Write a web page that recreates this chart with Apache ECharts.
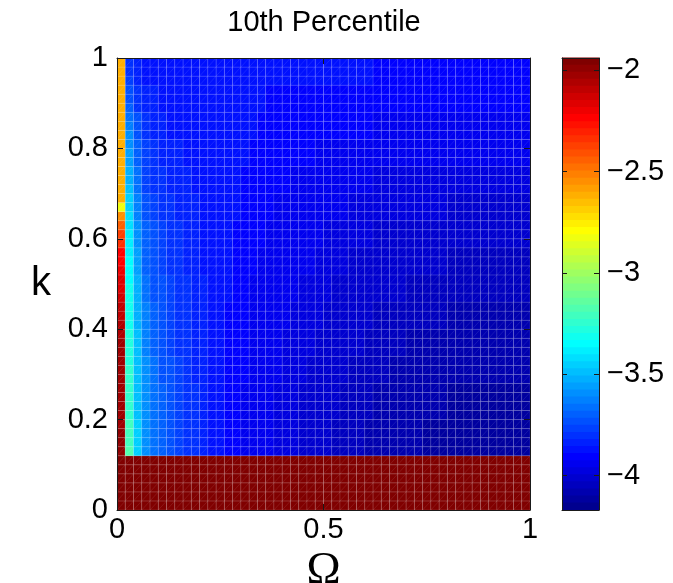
<!DOCTYPE html>
<html>
<head>
<meta charset="utf-8">
<script src="https://cdn.jsdelivr.net/npm/echarts@6/dist/echarts.min.js"></script>
<style>
html,body{margin:0;padding:0;background:#fff;}
#chart{width:673px;height:583px;}
</style>
</head>
<body>
<div id="chart"></div>
<script>
// Cell edges of the Ω (x) and k (y) grids
const omegaEdges = [0,0.02,0.04,0.06,0.08,0.1,0.12,0.14,0.16,0.18,0.2,0.22,0.24,0.26,0.28,0.3,0.32,0.34,0.36,0.38,0.4,0.42,0.44,0.46,0.48,0.5,0.52,0.54,0.56,0.58,0.6,0.62,0.64,0.66,0.68,0.7,0.72,0.74,0.76,0.78,0.8,0.82,0.84,0.86,0.88,0.9,0.92,0.94,0.96,0.98,1];
const kEdges = [0,0.02,0.04,0.06,0.08,0.1,0.12,0.14,0.16,0.18,0.2,0.22,0.24,0.26,0.28,0.3,0.32,0.34,0.36,0.38,0.4,0.42,0.44,0.46,0.48,0.5,0.52,0.54,0.56,0.58,0.6,0.62,0.64,0.66,0.68,0.7,0.72,0.74,0.76,0.78,0.8,0.82,0.84,0.86,0.88,0.9,0.92,0.94,0.96,0.98,1];

// 10th percentile values; one row per k cell (bottom to top), one entry per Ω cell (left to right)
const p10 = [
[-1.95,-1.95,-1.95,-1.95,-1.95,-1.95,-1.95,-1.95,-1.95,-1.95,-1.95,-1.95,-1.95,-1.95,-1.95,-1.95,-1.95,-1.95,-1.95,-1.95,-1.95,-1.95,-1.95,-1.95,-1.95,-1.95,-1.95,-1.95,-1.95,-1.95,-1.95,-1.95,-1.95,-1.95,-1.95,-1.95,-1.95,-1.95,-1.95,-1.95,-1.95,-1.95,-1.95,-1.95,-1.95,-1.95,-1.95,-1.95,-1.95,-1.95],
[-1.95,-1.95,-1.95,-1.95,-1.95,-1.95,-1.95,-1.95,-1.95,-1.95,-1.95,-1.95,-1.95,-1.95,-1.95,-1.95,-1.95,-1.95,-1.95,-1.95,-1.95,-1.95,-1.95,-1.95,-1.95,-1.95,-1.95,-1.95,-1.95,-1.95,-1.95,-1.95,-1.95,-1.95,-1.95,-1.95,-1.95,-1.95,-1.95,-1.95,-1.95,-1.95,-1.95,-1.95,-1.95,-1.95,-1.95,-1.95,-1.95,-1.95],
[-1.95,-1.95,-1.95,-1.95,-1.95,-1.95,-1.95,-1.95,-1.95,-1.95,-1.95,-1.95,-1.95,-1.95,-1.95,-1.95,-1.95,-1.95,-1.95,-1.95,-1.95,-1.95,-1.95,-1.95,-1.95,-1.95,-1.95,-1.95,-1.95,-1.95,-1.95,-1.95,-1.95,-1.95,-1.95,-1.95,-1.95,-1.95,-1.95,-1.95,-1.95,-1.95,-1.95,-1.95,-1.95,-1.95,-1.95,-1.95,-1.95,-1.95],
[-1.95,-1.95,-1.95,-1.95,-1.95,-1.95,-1.95,-1.95,-1.95,-1.95,-1.95,-1.95,-1.95,-1.95,-1.95,-1.95,-1.95,-1.95,-1.95,-1.95,-1.95,-1.95,-1.95,-1.95,-1.95,-1.95,-1.95,-1.95,-1.95,-1.95,-1.95,-1.95,-1.95,-1.95,-1.95,-1.95,-1.95,-1.95,-1.95,-1.95,-1.95,-1.95,-1.95,-1.95,-1.95,-1.95,-1.95,-1.95,-1.95,-1.95],
[-1.95,-1.95,-1.95,-1.95,-1.95,-1.95,-1.95,-1.95,-1.95,-1.95,-1.95,-1.95,-1.95,-1.95,-1.95,-1.95,-1.95,-1.95,-1.95,-1.95,-1.95,-1.95,-1.95,-1.95,-1.95,-1.95,-1.95,-1.95,-1.95,-1.95,-1.95,-1.95,-1.95,-1.95,-1.95,-1.95,-1.95,-1.95,-1.95,-1.95,-1.95,-1.95,-1.95,-1.95,-1.95,-1.95,-1.95,-1.95,-1.95,-1.95],
[-1.95,-1.95,-1.95,-1.95,-1.95,-1.95,-1.95,-1.95,-1.95,-1.95,-1.95,-1.95,-1.95,-1.95,-1.95,-1.95,-1.95,-1.95,-1.95,-1.95,-1.95,-1.95,-1.95,-1.95,-1.95,-1.95,-1.95,-1.95,-1.95,-1.95,-1.95,-1.95,-1.95,-1.95,-1.95,-1.95,-1.95,-1.95,-1.95,-1.95,-1.95,-1.95,-1.95,-1.95,-1.95,-1.95,-1.95,-1.95,-1.95,-1.95],
[-1.99,-3.19,-3.47,-3.58,-3.65,-3.70,-3.74,-3.77,-3.80,-3.82,-3.84,-3.86,-3.88,-3.90,-3.91,-3.93,-3.94,-3.95,-3.96,-3.97,-3.98,-3.99,-4.00,-4.01,-4.02,-4.03,-4.04,-4.05,-4.06,-4.06,-4.07,-4.08,-4.08,-4.09,-4.09,-4.10,-4.10,-4.11,-4.11,-4.11,-4.12,-4.12,-4.12,-4.12,-4.12,-4.12,-4.12,-4.12,-4.12,-4.12],
[-2.00,-3.20,-3.47,-3.58,-3.65,-3.70,-3.74,-3.77,-3.80,-3.82,-3.84,-3.86,-3.88,-3.90,-3.91,-3.93,-3.94,-3.95,-3.96,-3.97,-3.98,-3.99,-4.00,-4.01,-4.02,-4.03,-4.04,-4.05,-4.06,-4.06,-4.07,-4.08,-4.08,-4.09,-4.09,-4.10,-4.10,-4.11,-4.11,-4.11,-4.12,-4.12,-4.12,-4.12,-4.12,-4.12,-4.12,-4.12,-4.12,-4.12],
[-2.00,-3.21,-3.47,-3.58,-3.65,-3.70,-3.74,-3.77,-3.80,-3.82,-3.84,-3.86,-3.88,-3.90,-3.91,-3.93,-3.94,-3.95,-3.96,-3.97,-3.98,-3.99,-4.00,-4.01,-4.02,-4.03,-4.04,-4.05,-4.06,-4.06,-4.07,-4.08,-4.08,-4.09,-4.09,-4.10,-4.10,-4.11,-4.11,-4.11,-4.12,-4.12,-4.12,-4.12,-4.12,-4.12,-4.12,-4.12,-4.12,-4.12],
[-2.01,-3.22,-3.47,-3.58,-3.65,-3.70,-3.74,-3.77,-3.80,-3.82,-3.84,-3.86,-3.88,-3.90,-3.91,-3.93,-3.94,-3.95,-3.96,-3.97,-3.98,-3.99,-4.00,-4.01,-4.02,-4.03,-4.04,-4.05,-4.06,-4.06,-4.07,-4.08,-4.08,-4.09,-4.09,-4.10,-4.10,-4.11,-4.11,-4.11,-4.12,-4.12,-4.12,-4.12,-4.12,-4.12,-4.12,-4.12,-4.12,-4.12],
[-2.01,-3.23,-3.48,-3.59,-3.66,-3.71,-3.75,-3.77,-3.80,-3.82,-3.84,-3.86,-3.88,-3.90,-3.91,-3.93,-3.94,-3.95,-3.96,-3.97,-3.98,-3.99,-4.00,-4.01,-4.01,-4.02,-4.03,-4.04,-4.05,-4.05,-4.06,-4.07,-4.07,-4.08,-4.08,-4.09,-4.09,-4.10,-4.10,-4.10,-4.11,-4.11,-4.11,-4.11,-4.11,-4.11,-4.11,-4.11,-4.11,-4.11],
[-2.01,-3.23,-3.48,-3.59,-3.66,-3.71,-3.75,-3.77,-3.80,-3.82,-3.84,-3.86,-3.88,-3.90,-3.91,-3.93,-3.94,-3.95,-3.96,-3.97,-3.98,-3.99,-4.00,-4.01,-4.01,-4.02,-4.03,-4.04,-4.05,-4.05,-4.06,-4.07,-4.07,-4.08,-4.08,-4.09,-4.09,-4.10,-4.10,-4.10,-4.11,-4.11,-4.11,-4.11,-4.11,-4.11,-4.11,-4.11,-4.11,-4.11],
[-2.02,-3.24,-3.48,-3.59,-3.66,-3.71,-3.75,-3.77,-3.80,-3.82,-3.84,-3.86,-3.88,-3.90,-3.91,-3.93,-3.94,-3.95,-3.96,-3.97,-3.98,-3.99,-4.00,-4.01,-4.01,-4.02,-4.03,-4.04,-4.05,-4.05,-4.06,-4.07,-4.07,-4.08,-4.08,-4.09,-4.09,-4.10,-4.10,-4.10,-4.11,-4.11,-4.11,-4.11,-4.11,-4.11,-4.11,-4.11,-4.11,-4.11],
[-2.02,-3.25,-3.48,-3.59,-3.66,-3.71,-3.75,-3.77,-3.80,-3.82,-3.84,-3.86,-3.88,-3.90,-3.91,-3.93,-3.94,-3.95,-3.96,-3.97,-3.98,-3.99,-4.00,-4.01,-4.01,-4.02,-4.03,-4.04,-4.05,-4.05,-4.06,-4.07,-4.07,-4.08,-4.08,-4.09,-4.09,-4.10,-4.10,-4.10,-4.11,-4.11,-4.11,-4.11,-4.11,-4.11,-4.11,-4.11,-4.11,-4.11],
[-2.02,-3.25,-3.49,-3.61,-3.67,-3.72,-3.75,-3.78,-3.81,-3.83,-3.84,-3.86,-3.88,-3.90,-3.91,-3.92,-3.93,-3.94,-3.95,-3.96,-3.97,-3.98,-3.99,-4.00,-4.01,-4.02,-4.02,-4.03,-4.04,-4.04,-4.05,-4.06,-4.06,-4.07,-4.07,-4.08,-4.08,-4.09,-4.09,-4.09,-4.10,-4.10,-4.10,-4.10,-4.10,-4.10,-4.10,-4.10,-4.10,-4.10],
[-2.03,-3.26,-3.49,-3.61,-3.67,-3.72,-3.75,-3.78,-3.81,-3.83,-3.84,-3.86,-3.88,-3.90,-3.91,-3.92,-3.93,-3.94,-3.95,-3.96,-3.97,-3.98,-3.99,-4.00,-4.01,-4.02,-4.02,-4.03,-4.04,-4.04,-4.05,-4.06,-4.06,-4.07,-4.07,-4.08,-4.08,-4.09,-4.09,-4.09,-4.10,-4.10,-4.10,-4.10,-4.10,-4.10,-4.10,-4.10,-4.10,-4.10],
[-2.03,-3.27,-3.49,-3.61,-3.67,-3.72,-3.75,-3.78,-3.81,-3.83,-3.84,-3.86,-3.88,-3.90,-3.91,-3.92,-3.93,-3.94,-3.95,-3.96,-3.97,-3.98,-3.99,-4.00,-4.01,-4.02,-4.02,-4.03,-4.04,-4.04,-4.05,-4.06,-4.06,-4.07,-4.07,-4.08,-4.08,-4.09,-4.09,-4.09,-4.10,-4.10,-4.10,-4.10,-4.10,-4.10,-4.10,-4.10,-4.10,-4.10],
[-2.04,-3.27,-3.50,-3.62,-3.69,-3.73,-3.76,-3.79,-3.81,-3.83,-3.85,-3.86,-3.88,-3.90,-3.91,-3.92,-3.93,-3.94,-3.95,-3.96,-3.97,-3.97,-3.98,-3.99,-4.00,-4.01,-4.02,-4.02,-4.03,-4.03,-4.04,-4.05,-4.05,-4.06,-4.06,-4.07,-4.07,-4.08,-4.08,-4.08,-4.09,-4.09,-4.09,-4.09,-4.09,-4.09,-4.09,-4.09,-4.09,-4.09],
[-2.04,-3.28,-3.50,-3.62,-3.69,-3.73,-3.76,-3.79,-3.81,-3.83,-3.85,-3.86,-3.88,-3.90,-3.91,-3.92,-3.93,-3.94,-3.95,-3.96,-3.97,-3.97,-3.98,-3.99,-4.00,-4.01,-4.02,-4.02,-4.03,-4.03,-4.04,-4.05,-4.05,-4.06,-4.06,-4.07,-4.07,-4.08,-4.08,-4.08,-4.09,-4.09,-4.09,-4.09,-4.09,-4.09,-4.09,-4.09,-4.09,-4.09],
[-2.05,-3.29,-3.50,-3.62,-3.69,-3.73,-3.76,-3.79,-3.81,-3.83,-3.85,-3.86,-3.88,-3.90,-3.91,-3.92,-3.93,-3.94,-3.95,-3.96,-3.97,-3.97,-3.98,-3.99,-4.00,-4.01,-4.02,-4.02,-4.03,-4.03,-4.04,-4.05,-4.05,-4.06,-4.06,-4.07,-4.07,-4.08,-4.08,-4.08,-4.09,-4.09,-4.09,-4.09,-4.09,-4.09,-4.09,-4.09,-4.09,-4.09],
[-2.07,-3.30,-3.52,-3.64,-3.70,-3.74,-3.77,-3.80,-3.82,-3.83,-3.85,-3.86,-3.88,-3.90,-3.90,-3.92,-3.93,-3.94,-3.94,-3.95,-3.96,-3.97,-3.97,-3.98,-3.99,-4.00,-4.01,-4.01,-4.02,-4.02,-4.03,-4.04,-4.04,-4.05,-4.05,-4.05,-4.05,-4.06,-4.06,-4.06,-4.07,-4.07,-4.07,-4.07,-4.07,-4.07,-4.07,-4.07,-4.07,-4.07],
[-2.09,-3.30,-3.52,-3.64,-3.70,-3.74,-3.77,-3.80,-3.82,-3.83,-3.85,-3.86,-3.88,-3.90,-3.90,-3.92,-3.93,-3.94,-3.94,-3.95,-3.96,-3.97,-3.97,-3.98,-3.99,-4.00,-4.01,-4.01,-4.02,-4.02,-4.03,-4.04,-4.04,-4.05,-4.05,-4.05,-4.05,-4.06,-4.06,-4.06,-4.07,-4.07,-4.07,-4.07,-4.07,-4.07,-4.07,-4.07,-4.07,-4.07],
[-2.10,-3.31,-3.52,-3.64,-3.70,-3.74,-3.77,-3.80,-3.82,-3.83,-3.85,-3.86,-3.88,-3.90,-3.90,-3.92,-3.93,-3.94,-3.94,-3.95,-3.96,-3.97,-3.97,-3.98,-3.99,-4.00,-4.01,-4.01,-4.02,-4.02,-4.03,-4.04,-4.04,-4.05,-4.05,-4.05,-4.05,-4.06,-4.06,-4.06,-4.07,-4.07,-4.07,-4.07,-4.07,-4.07,-4.07,-4.07,-4.07,-4.07],
[-2.13,-3.32,-3.54,-3.66,-3.72,-3.75,-3.78,-3.80,-3.82,-3.84,-3.85,-3.87,-3.88,-3.89,-3.90,-3.92,-3.93,-3.93,-3.94,-3.95,-3.95,-3.96,-3.97,-3.97,-3.98,-3.99,-4.00,-4.00,-4.01,-4.01,-4.02,-4.03,-4.03,-4.03,-4.03,-4.04,-4.04,-4.05,-4.05,-4.05,-4.05,-4.05,-4.05,-4.05,-4.05,-4.05,-4.05,-4.05,-4.05,-4.05],
[-2.15,-3.33,-3.54,-3.66,-3.72,-3.75,-3.78,-3.80,-3.82,-3.84,-3.85,-3.87,-3.88,-3.89,-3.90,-3.92,-3.93,-3.93,-3.94,-3.95,-3.95,-3.96,-3.97,-3.97,-3.98,-3.99,-4.00,-4.00,-4.01,-4.01,-4.02,-4.03,-4.03,-4.03,-4.03,-4.04,-4.04,-4.05,-4.05,-4.05,-4.05,-4.05,-4.05,-4.05,-4.05,-4.05,-4.05,-4.05,-4.05,-4.05],
[-2.17,-3.34,-3.54,-3.66,-3.72,-3.75,-3.78,-3.80,-3.82,-3.84,-3.85,-3.87,-3.88,-3.89,-3.90,-3.92,-3.93,-3.93,-3.94,-3.95,-3.95,-3.96,-3.97,-3.97,-3.98,-3.99,-4.00,-4.00,-4.01,-4.01,-4.02,-4.03,-4.03,-4.03,-4.03,-4.04,-4.04,-4.05,-4.05,-4.05,-4.05,-4.05,-4.05,-4.05,-4.05,-4.05,-4.05,-4.05,-4.05,-4.05],
[-2.21,-3.35,-3.56,-3.69,-3.73,-3.77,-3.79,-3.81,-3.83,-3.84,-3.86,-3.87,-3.88,-3.89,-3.90,-3.91,-3.92,-3.93,-3.93,-3.94,-3.95,-3.95,-3.96,-3.96,-3.97,-3.98,-3.98,-3.99,-4.00,-4.00,-4.00,-4.01,-4.01,-4.02,-4.02,-4.02,-4.02,-4.03,-4.03,-4.03,-4.04,-4.04,-4.04,-4.04,-4.04,-4.04,-4.04,-4.04,-4.04,-4.04],
[-2.23,-3.36,-3.56,-3.69,-3.73,-3.77,-3.79,-3.81,-3.83,-3.84,-3.86,-3.87,-3.88,-3.89,-3.90,-3.91,-3.92,-3.93,-3.93,-3.94,-3.95,-3.95,-3.96,-3.96,-3.97,-3.98,-3.98,-3.99,-4.00,-4.00,-4.00,-4.01,-4.01,-4.02,-4.02,-4.02,-4.02,-4.03,-4.03,-4.03,-4.04,-4.04,-4.04,-4.04,-4.04,-4.04,-4.04,-4.04,-4.04,-4.04],
[-2.25,-3.37,-3.56,-3.69,-3.73,-3.77,-3.79,-3.81,-3.83,-3.84,-3.86,-3.87,-3.88,-3.89,-3.90,-3.91,-3.92,-3.93,-3.93,-3.94,-3.95,-3.95,-3.96,-3.96,-3.97,-3.98,-3.98,-3.99,-4.00,-4.00,-4.00,-4.01,-4.01,-4.02,-4.02,-4.02,-4.02,-4.03,-4.03,-4.03,-4.04,-4.04,-4.04,-4.04,-4.04,-4.04,-4.04,-4.04,-4.04,-4.04],
[-2.33,-3.38,-3.59,-3.71,-3.75,-3.78,-3.80,-3.82,-3.84,-3.85,-3.86,-3.87,-3.88,-3.89,-3.90,-3.91,-3.92,-3.92,-3.93,-3.93,-3.94,-3.94,-3.95,-3.95,-3.96,-3.97,-3.97,-3.98,-3.98,-3.98,-3.99,-4.00,-4.00,-4.00,-4.00,-4.01,-4.01,-4.01,-4.01,-4.01,-4.02,-4.02,-4.02,-4.02,-4.02,-4.02,-4.02,-4.02,-4.02,-4.02],
[-2.37,-3.40,-3.59,-3.71,-3.75,-3.78,-3.80,-3.82,-3.84,-3.85,-3.86,-3.87,-3.88,-3.89,-3.90,-3.91,-3.92,-3.92,-3.93,-3.93,-3.94,-3.94,-3.95,-3.95,-3.96,-3.97,-3.97,-3.98,-3.98,-3.98,-3.99,-4.00,-4.00,-4.00,-4.00,-4.01,-4.01,-4.01,-4.01,-4.01,-4.02,-4.02,-4.02,-4.02,-4.02,-4.02,-4.02,-4.02,-4.02,-4.02],
[-2.46,-3.41,-3.59,-3.71,-3.75,-3.78,-3.80,-3.82,-3.84,-3.85,-3.86,-3.87,-3.88,-3.89,-3.90,-3.91,-3.92,-3.92,-3.93,-3.93,-3.94,-3.94,-3.95,-3.95,-3.96,-3.97,-3.97,-3.98,-3.98,-3.98,-3.99,-4.00,-4.00,-4.00,-4.00,-4.01,-4.01,-4.01,-4.01,-4.01,-4.02,-4.02,-4.02,-4.02,-4.02,-4.02,-4.02,-4.02,-4.02,-4.02],
[-2.54,-3.43,-3.62,-3.73,-3.77,-3.80,-3.82,-3.83,-3.84,-3.85,-3.86,-3.87,-3.88,-3.89,-3.89,-3.90,-3.91,-3.92,-3.92,-3.93,-3.93,-3.93,-3.94,-3.94,-3.95,-3.95,-3.96,-3.96,-3.97,-3.97,-3.97,-3.98,-3.98,-3.99,-3.99,-3.99,-3.99,-3.99,-3.99,-3.99,-4.00,-4.00,-4.00,-4.00,-4.00,-4.00,-4.00,-4.00,-4.00,-4.00],
[-2.82,-3.45,-3.62,-3.73,-3.77,-3.80,-3.82,-3.83,-3.84,-3.85,-3.86,-3.87,-3.88,-3.89,-3.89,-3.90,-3.91,-3.92,-3.92,-3.93,-3.93,-3.93,-3.94,-3.94,-3.95,-3.95,-3.96,-3.96,-3.97,-3.97,-3.97,-3.98,-3.98,-3.99,-3.99,-3.99,-3.99,-3.99,-3.99,-3.99,-4.00,-4.00,-4.00,-4.00,-4.00,-4.00,-4.00,-4.00,-4.00,-4.00],
[-2.62,-3.47,-3.62,-3.73,-3.77,-3.80,-3.82,-3.83,-3.84,-3.85,-3.86,-3.87,-3.88,-3.89,-3.89,-3.90,-3.91,-3.92,-3.92,-3.93,-3.93,-3.93,-3.94,-3.94,-3.95,-3.95,-3.96,-3.96,-3.97,-3.97,-3.97,-3.98,-3.98,-3.99,-3.99,-3.99,-3.99,-3.99,-3.99,-3.99,-4.00,-4.00,-4.00,-4.00,-4.00,-4.00,-4.00,-4.00,-4.00,-4.00],
[-2.62,-3.49,-3.66,-3.76,-3.79,-3.82,-3.83,-3.84,-3.85,-3.86,-3.86,-3.87,-3.88,-3.89,-3.89,-3.90,-3.91,-3.91,-3.92,-3.92,-3.92,-3.93,-3.93,-3.93,-3.94,-3.94,-3.94,-3.95,-3.95,-3.95,-3.96,-3.97,-3.97,-3.97,-3.97,-3.97,-3.97,-3.98,-3.98,-3.98,-3.98,-3.98,-3.98,-3.98,-3.98,-3.98,-3.98,-3.98,-3.98,-3.98],
[-2.62,-3.51,-3.66,-3.76,-3.79,-3.82,-3.83,-3.84,-3.85,-3.86,-3.86,-3.87,-3.88,-3.89,-3.89,-3.90,-3.91,-3.91,-3.92,-3.92,-3.92,-3.93,-3.93,-3.93,-3.94,-3.94,-3.94,-3.95,-3.95,-3.95,-3.96,-3.97,-3.97,-3.97,-3.97,-3.97,-3.97,-3.98,-3.98,-3.98,-3.98,-3.98,-3.98,-3.98,-3.98,-3.98,-3.98,-3.98,-3.98,-3.98],
[-2.62,-3.53,-3.66,-3.76,-3.79,-3.82,-3.83,-3.84,-3.85,-3.86,-3.86,-3.87,-3.88,-3.89,-3.89,-3.90,-3.91,-3.91,-3.92,-3.92,-3.92,-3.93,-3.93,-3.93,-3.94,-3.94,-3.94,-3.95,-3.95,-3.95,-3.96,-3.97,-3.97,-3.97,-3.97,-3.97,-3.97,-3.98,-3.98,-3.98,-3.98,-3.98,-3.98,-3.98,-3.98,-3.98,-3.98,-3.98,-3.98,-3.98],
[-2.62,-3.55,-3.70,-3.78,-3.81,-3.83,-3.84,-3.85,-3.86,-3.86,-3.87,-3.87,-3.88,-3.89,-3.89,-3.89,-3.90,-3.91,-3.91,-3.91,-3.91,-3.92,-3.92,-3.92,-3.93,-3.93,-3.93,-3.93,-3.94,-3.94,-3.94,-3.95,-3.95,-3.95,-3.95,-3.95,-3.95,-3.96,-3.96,-3.96,-3.96,-3.96,-3.96,-3.96,-3.96,-3.96,-3.96,-3.96,-3.96,-3.96],
[-2.62,-3.57,-3.70,-3.78,-3.81,-3.83,-3.84,-3.85,-3.86,-3.86,-3.87,-3.87,-3.88,-3.89,-3.89,-3.89,-3.90,-3.91,-3.91,-3.91,-3.91,-3.92,-3.92,-3.92,-3.93,-3.93,-3.93,-3.93,-3.94,-3.94,-3.94,-3.95,-3.95,-3.95,-3.95,-3.95,-3.95,-3.96,-3.96,-3.96,-3.96,-3.96,-3.96,-3.96,-3.96,-3.96,-3.96,-3.96,-3.96,-3.96],
[-2.62,-3.59,-3.70,-3.78,-3.81,-3.83,-3.84,-3.85,-3.86,-3.86,-3.87,-3.87,-3.88,-3.89,-3.89,-3.89,-3.90,-3.91,-3.91,-3.91,-3.91,-3.92,-3.92,-3.92,-3.93,-3.93,-3.93,-3.93,-3.94,-3.94,-3.94,-3.95,-3.95,-3.95,-3.95,-3.95,-3.95,-3.96,-3.96,-3.96,-3.96,-3.96,-3.96,-3.96,-3.96,-3.96,-3.96,-3.96,-3.96,-3.96],
[-2.62,-3.61,-3.75,-3.81,-3.83,-3.85,-3.86,-3.86,-3.87,-3.87,-3.87,-3.88,-3.88,-3.88,-3.89,-3.89,-3.89,-3.90,-3.90,-3.90,-3.91,-3.91,-3.91,-3.91,-3.91,-3.91,-3.92,-3.92,-3.92,-3.92,-3.92,-3.93,-3.93,-3.93,-3.93,-3.93,-3.93,-3.94,-3.94,-3.94,-3.94,-3.94,-3.94,-3.94,-3.94,-3.94,-3.94,-3.94,-3.94,-3.94],
[-2.62,-3.64,-3.75,-3.81,-3.83,-3.85,-3.86,-3.86,-3.87,-3.87,-3.87,-3.88,-3.88,-3.88,-3.89,-3.89,-3.89,-3.90,-3.90,-3.90,-3.91,-3.91,-3.91,-3.91,-3.91,-3.91,-3.92,-3.92,-3.92,-3.92,-3.92,-3.93,-3.93,-3.93,-3.93,-3.93,-3.93,-3.94,-3.94,-3.94,-3.94,-3.94,-3.94,-3.94,-3.94,-3.94,-3.94,-3.94,-3.94,-3.94],
[-2.62,-3.66,-3.75,-3.81,-3.83,-3.85,-3.86,-3.86,-3.87,-3.87,-3.87,-3.88,-3.88,-3.88,-3.89,-3.89,-3.89,-3.90,-3.90,-3.90,-3.91,-3.91,-3.91,-3.91,-3.91,-3.91,-3.92,-3.92,-3.92,-3.92,-3.92,-3.93,-3.93,-3.93,-3.93,-3.93,-3.93,-3.94,-3.94,-3.94,-3.94,-3.94,-3.94,-3.94,-3.94,-3.94,-3.94,-3.94,-3.94,-3.94],
[-2.62,-3.69,-3.80,-3.84,-3.85,-3.87,-3.87,-3.87,-3.87,-3.88,-3.88,-3.88,-3.88,-3.88,-3.88,-3.88,-3.89,-3.89,-3.90,-3.90,-3.90,-3.90,-3.90,-3.90,-3.90,-3.90,-3.90,-3.90,-3.90,-3.90,-3.91,-3.91,-3.91,-3.91,-3.91,-3.92,-3.92,-3.92,-3.92,-3.92,-3.92,-3.92,-3.92,-3.92,-3.92,-3.92,-3.92,-3.92,-3.92,-3.92],
[-2.62,-3.72,-3.80,-3.84,-3.85,-3.87,-3.87,-3.87,-3.87,-3.88,-3.88,-3.88,-3.88,-3.88,-3.88,-3.88,-3.89,-3.89,-3.90,-3.90,-3.90,-3.90,-3.90,-3.90,-3.90,-3.90,-3.90,-3.90,-3.90,-3.90,-3.91,-3.91,-3.91,-3.91,-3.91,-3.92,-3.92,-3.92,-3.92,-3.92,-3.92,-3.92,-3.92,-3.92,-3.92,-3.92,-3.92,-3.92,-3.92,-3.92],
[-2.62,-3.75,-3.80,-3.84,-3.85,-3.87,-3.87,-3.87,-3.87,-3.88,-3.88,-3.88,-3.88,-3.88,-3.88,-3.88,-3.89,-3.89,-3.90,-3.90,-3.90,-3.90,-3.90,-3.90,-3.90,-3.90,-3.90,-3.90,-3.90,-3.90,-3.91,-3.91,-3.91,-3.91,-3.91,-3.92,-3.92,-3.92,-3.92,-3.92,-3.92,-3.92,-3.92,-3.92,-3.92,-3.92,-3.92,-3.92,-3.92,-3.92],
[-2.62,-3.77,-3.84,-3.86,-3.87,-3.88,-3.88,-3.88,-3.88,-3.88,-3.88,-3.88,-3.88,-3.88,-3.88,-3.88,-3.89,-3.89,-3.89,-3.89,-3.89,-3.89,-3.89,-3.89,-3.89,-3.89,-3.89,-3.89,-3.89,-3.89,-3.89,-3.90,-3.90,-3.90,-3.90,-3.90,-3.90,-3.90,-3.90,-3.90,-3.90,-3.90,-3.90,-3.90,-3.90,-3.90,-3.90,-3.90,-3.90,-3.90],
[-2.62,-3.79,-3.84,-3.86,-3.87,-3.88,-3.88,-3.88,-3.88,-3.88,-3.88,-3.88,-3.88,-3.88,-3.88,-3.88,-3.89,-3.89,-3.89,-3.89,-3.89,-3.89,-3.89,-3.89,-3.89,-3.89,-3.89,-3.89,-3.89,-3.89,-3.89,-3.90,-3.90,-3.90,-3.90,-3.90,-3.90,-3.90,-3.90,-3.90,-3.90,-3.90,-3.90,-3.90,-3.90,-3.90,-3.90,-3.90,-3.90,-3.90],
[-2.62,-3.81,-3.84,-3.86,-3.87,-3.88,-3.88,-3.88,-3.88,-3.88,-3.88,-3.88,-3.88,-3.88,-3.88,-3.88,-3.89,-3.89,-3.89,-3.89,-3.89,-3.89,-3.89,-3.89,-3.89,-3.89,-3.89,-3.89,-3.89,-3.89,-3.89,-3.90,-3.90,-3.90,-3.90,-3.90,-3.90,-3.90,-3.90,-3.90,-3.90,-3.90,-3.90,-3.90,-3.90,-3.90,-3.90,-3.90,-3.90,-3.90]
];

// Colour limits and colour-bar tick labels
const colorMin = -4.17;
const colorMax = -1.94;
const colorTicks = [-4, -3.5, -3, -2.5, -2];
const omegaTicks = [0, 0.5, 1];

// MATLAB-style jet colormap with m levels
function jet(m) {
  const n = Math.ceil(m / 4), u = [];
  for (let i = 1; i <= n; i++) u.push(i / n);
  for (let i = 1; i < n; i++) u.push(1);
  for (let i = n; i >= 1; i--) u.push(i / n);
  const g0 = Math.ceil(n / 2) - (m % 4 === 1 ? 1 : 0);
  const J = Array.from({length: m}, () => [0, 0, 0]);
  for (let k = 0; k < u.length; k++) {
    const g = g0 + k + 1, r = g + n, b = g - n;
    if (r >= 1 && r <= m) J[r - 1][0] = u[k];
    if (g >= 1 && g <= m) J[g - 1][1] = u[k];
    if (b >= 1 && b <= m) J[b - 1][2] = u[k];
  }
  return J.map(c => 'rgb(' + c.map(v => Math.round(v * 255)).join(',') + ')');
}

const LEVELS = 64;
const jetColors = jet(LEVELS);
const step = (colorMax - colorMin) / LEVELS;
const pieces = jetColors.map((c, i) => {
  const p = {color: c};
  p.gte = i === 0 ? -1e9 : colorMin + step * i;
  p.lt = i === LEVELS - 1 ? 1e9 : colorMin + step * (i + 1);
  return p;
});

const cells = [];
for (let j = 0; j < p10.length; j++) {
  for (let i = 0; i < p10[j].length; i++) {
    cells.push([omegaEdges[i], kEdges[j], omegaEdges[i + 1], kEdges[j + 1], p10[j][i]]);
  }
}

const SANS = '"Liberation Sans", Arial, Helvetica, sans-serif';
const SERIF = '"Liberation Serif", "Times New Roman", serif';
const AXIS = '#1a1a1a';
const FS = 29;
const minus = v => String(v).replace('-', '\u2212');

const plot = {left: 117, top: 58, width: 413, height: 452};
const bar = {left: 562, top: 58, width: 37, height: 452};
// colour-bar swatches overlap slightly so no seams show between bands
const overlap = 0.8;

function boxAxis(extra) {
  return Object.assign({
    type: 'value', z: 10,
    axisLine: {show: true, onZero: false, lineStyle: {color: AXIS, width: 1}},
    axisTick: {show: true, inside: true, length: 6, lineStyle: {color: AXIS, width: 1}},
    axisLabel: {show: false},
    splitLine: {show: false}
  }, extra);
}

const chart = echarts.init(document.getElementById('chart'), null, {renderer: 'canvas'});
chart.setOption({
  animation: false,
  backgroundColor: '#fff',
  title: {
    text: '10th Percentile', left: 324, top: 8, padding: 0, textAlign: 'center',
    textStyle: {fontFamily: SANS, fontSize: FS, fontWeight: 'normal', color: '#000'}
  },
  grid: [
    Object.assign({containLabel: false, outerBoundsMode: 'none'}, plot),
    Object.assign({containLabel: false, outerBoundsMode: 'none'}, bar)
  ],
  xAxis: [
    boxAxis({gridIndex: 0, min: 0, max: 1, interval: 0.5, position: 'bottom',
      axisLabel: {show: true, margin: 5, fontSize: FS, color: '#000', fontFamily: SANS,
        customValues: omegaTicks},
      name: 'Ω', nameLocation: 'middle', nameGap: 28,
      nameTextStyle: {fontFamily: SERIF, fontSize: 46, color: '#000'}}),
    boxAxis({gridIndex: 0, min: 0, max: 1, interval: 0.5, position: 'top'}),
    boxAxis({gridIndex: 1, min: 0, max: 1, position: 'bottom', axisTick: {show: false}}),
    boxAxis({gridIndex: 1, min: 0, max: 1, position: 'top', axisTick: {show: false}})
  ],
  yAxis: [
    boxAxis({gridIndex: 0, min: 0, max: 1, interval: 0.2, position: 'left',
      axisLabel: {show: true, margin: 9, fontSize: FS, color: '#000', fontFamily: SANS},
      name: 'k', nameLocation: 'middle', nameGap: 66, nameRotate: 0,
      nameTextStyle: {fontFamily: SANS, fontSize: 40, color: '#000', align: 'right', verticalAlign: 'middle'}}),
    boxAxis({gridIndex: 0, min: 0, max: 1, interval: 0.2, position: 'right'}),
    boxAxis({gridIndex: 1, min: colorMin, max: colorMax, position: 'right',
      axisTick: {show: true, inside: true, length: 5, customValues: colorTicks, lineStyle: {color: AXIS}},
      axisLabel: {show: true, margin: 8, fontSize: FS, color: '#000', fontFamily: SANS,
        customValues: colorTicks, formatter: minus}}),
    boxAxis({gridIndex: 1, min: colorMin, max: colorMax, position: 'left',
      axisTick: {show: true, inside: true, length: 5, customValues: colorTicks, lineStyle: {color: AXIS}}})
  ],
  visualMap: {
    type: 'piecewise', pieces: pieces, seriesIndex: 0, dimension: 4,
    show: true, orient: 'vertical', left: bar.left, top: bar.top - overlap / 2,
    itemWidth: bar.width, itemHeight: bar.height / LEVELS + overlap, itemGap: -overlap,
    itemSymbol: 'rect', showLabel: false, padding: 0, selectedMode: false,
    hoverLink: false, z: 4
  },
  series: [{
    type: 'custom',
    xAxisIndex: 0, yAxisIndex: 0,
    encode: {x: [0, 2], y: [1, 3]},
    data: cells,
    silent: true,
    renderItem: function (params, api) {
      const a = api.coord([api.value(0), api.value(1)]);
      const b = api.coord([api.value(2), api.value(3)]);
      const fill = api.visual('color');
      return {
        type: 'group',
        children: [
          {type: 'rect', shape: {x: a[0], y: b[1], width: b[0] - a[0], height: a[1] - b[1]},
           style: {fill: fill, stroke: 'rgba(255,255,255,0.16)', lineWidth: 0.7}},
          {type: 'line', shape: {x1: a[0], y1: a[1], x2: b[0], y2: b[1]},
           style: {stroke: 'rgba(255,255,255,0.13)', lineWidth: 0.7}}
        ]
      };
    }
  }]
});
</script>
</body>
</html>
